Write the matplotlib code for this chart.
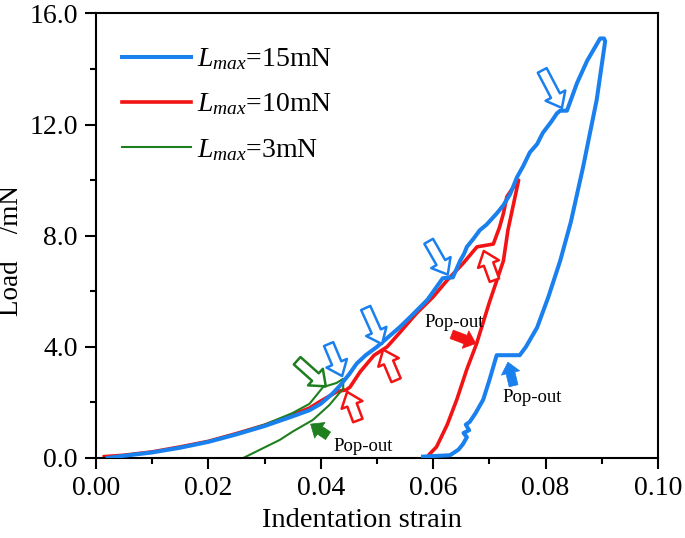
import matplotlib
matplotlib.use("Agg")
import matplotlib.pyplot as plt

plt.rcParams['font.family'] = ['Liberation Serif', 'DejaVu Serif']
plt.rcParams['mathtext.fontset'] = 'custom'
plt.rcParams['mathtext.rm'] = 'Liberation Serif'
plt.rcParams['mathtext.it'] = 'Liberation Serif:italic'

# ---- data ----
blue_x = [0.0021, 0.005, 0.010, 0.015, 0.020, 0.025, 0.030, 0.035, 0.038, 0.040, 0.042,
          0.0434, 0.045, 0.0464, 0.048, 0.050, 0.052, 0.054, 0.0559, 0.059, 0.0617,
          0.0635, 0.0648, 0.0655, 0.066, 0.0672, 0.0683, 0.0695, 0.0713, 0.0725, 0.0737,
          0.0749, 0.0760, 0.0772, 0.0785, 0.0795, 0.0810, 0.0820,
          0.0826, 0.0838, 0.0856, 0.0874, 0.0897, 0.0904,
          0.0906, 0.0891, 0.0867, 0.0845, 0.0826, 0.0805, 0.0785, 0.0765, 0.0754, 0.0713,
          0.070, 0.0689, 0.0675, 0.0665, 0.0658, 0.0664, 0.0654, 0.0660, 0.0653, 0.0645,
          0.063, 0.0582]
blue_y = [0.0, 0.08, 0.2, 0.37, 0.58, 0.85, 1.15, 1.5, 1.72, 1.95, 2.3,
          2.6, 3.0, 3.4, 3.7, 4.0, 4.35, 4.7, 5.07, 5.7, 6.47,
          6.5, 7.1, 7.35, 7.6, 7.9, 8.2, 8.4, 8.8, 9.1, 9.5,
          10.1, 10.5, 11.0, 11.3, 11.7, 12.1, 12.4,
          12.5, 12.5, 13.5, 14.3, 15.1, 15.1,
          15.0, 12.9, 10.5, 8.5, 7.1, 5.8, 4.7, 4.0, 3.7, 3.7,
          2.8, 2.1, 1.6, 1.3, 1.2, 1.0, 0.9, 0.75, 0.5, 0.3,
          0.1, 0.05]

red_x = [0.0015, 0.005, 0.010, 0.015, 0.020, 0.025, 0.030, 0.035, 0.038, 0.040, 0.043,
         0.0445, 0.0452, 0.047, 0.0495, 0.0518, 0.054, 0.057, 0.060, 0.0625, 0.0653,
         0.0678, 0.0707, 0.0718, 0.0725, 0.0731, 0.0751,
         0.0752, 0.0733, 0.0725, 0.070, 0.0677, 0.066, 0.0642, 0.0625, 0.0606, 0.0594, 0.0588]
red_y = [0.05, 0.1, 0.22, 0.4, 0.6, 0.88, 1.18, 1.55, 1.8, 2.05, 2.4,
         2.45, 2.55, 3.1, 3.7, 4.0, 4.5, 5.2, 5.8, 6.4, 7.0,
         7.6, 7.7, 8.3, 8.8, 9.4, 10.0,
         10.0, 8.2, 7.1, 5.6, 4.1, 3.2, 2.1, 1.2, 0.4, 0.15, 0.0]

green_x = [0.003, 0.010, 0.015, 0.020, 0.025, 0.030, 0.035, 0.038, 0.0404, 0.0428, 0.044,
           0.044, 0.0415, 0.0386, 0.035, 0.0327, 0.030, 0.028, 0.0262]
green_y = [0.05, 0.22, 0.4, 0.6, 0.88, 1.2, 1.62, 1.95, 2.55, 2.7, 2.85,
           2.5, 1.9, 1.37, 0.95, 0.65, 0.38, 0.18, 0.0]

labels = [r'$L_{max}$=15mN', r'$L_{max}$=10mN', r'$L_{max}$=3mN']
colors = ['#1a80ee', '#f21414', '#1f7f1f']

x_ticks = [0.00, 0.02, 0.04, 0.06, 0.08, 0.10]
y_ticks = [0.0, 4.0, 8.0, 12.0, 16.0]

# annotation arrows: (tail, head, color, filled)
arrows = [
    ((0.0414, 4.1), (0.0438, 2.95), '#1a80ee', False),
    ((0.0480, 5.4), (0.0509, 4.1), '#1a80ee', False),
    ((0.0592, 7.8), (0.0626, 6.6), '#1a80ee', False),
    ((0.0794, 13.95), (0.0829, 12.6), '#1a80ee', False),
    ((0.0466, 1.35), (0.0447, 2.38), '#f21414', False),
    ((0.0534, 2.8), (0.0511, 3.9), '#f21414', False),
    ((0.0709, 6.4), (0.0690, 7.45), '#f21414', False),
    ((0.0358, 3.5), (0.0409, 2.58), '#1f7f1f', False),
    ((0.0413, 0.80), (0.0382, 1.22), '#1f7f1f', True),
    ((0.0633, 4.45), (0.0676, 4.12), '#f21414', True),
    ((0.0743, 2.60), (0.0733, 3.45), '#1a80ee', True),
]
popout_texts = [((0.0422, 0.43), 'left'), ((0.0637, 4.86), 'center'), ((0.0776, 2.16), 'center')]

fig = plt.figure(figsize=(6.85, 5.38), dpi=100)
ax = fig.add_axes([0.140, 0.1487, 0.8206, 0.8263])

ax.plot(blue_x, blue_y, color=colors[0], lw=2.9, label=labels[0], zorder=3, solid_joinstyle='round')
ax.plot(red_x, red_y, color=colors[1], lw=2.6, label=labels[1], zorder=2, solid_joinstyle='round')
ax.plot(green_x, green_y, color=colors[2], lw=1.5, label=labels[2], zorder=2.5)

for tail, head, c, filled in arrows:
    if filled:
        style = 'simple,head_length=0.8,head_width=1.35,tail_width=0.65'
        ax.annotate('', xy=head, xytext=tail,
                    arrowprops=dict(arrowstyle=style, fc=c, ec=c, lw=0.5,
                                    mutation_scale=10, shrinkA=0, shrinkB=0), zorder=5)
    else:
        style = 'simple,head_length=1.0,head_width=1.6,tail_width=0.72'
        ax.annotate('', xy=head, xytext=tail,
                    arrowprops=dict(arrowstyle=style, fc='white', ec=c, lw=1.8,
                                    mutation_scale=10, shrinkA=0, shrinkB=0), zorder=5)

for (pos, ha) in popout_texts:
    ax.text(pos[0], pos[1], 'Pop-out', fontsize=13.5, ha=ha, va='center', zorder=6)

ax.set_xlim(0, 0.10)
ax.set_ylim(0, 16)
ax.set_xticks(x_ticks)
ax.set_xticklabels([f'{v:.2f}' for v in x_ticks])
ax.set_yticks(y_ticks)
ax.set_yticklabels([f'{v:.1f}' for v in y_ticks])
ax.set_xticks([0.01, 0.03, 0.05, 0.07, 0.09], minor=True)
ax.set_yticks([2, 6, 10, 14], minor=True)
ax.tick_params(which='major', direction='out', length=8, width=1.5, labelsize=20, pad=5)
ax.tick_params(which='minor', direction='out', length=4.5, width=1.5)
ax.tick_params(top=False, right=False, which='both')
for s in ax.spines.values():
    s.set_linewidth(1.5)

ax.set_xlabel('Indentation strain', fontsize=20.5)
ax.xaxis.set_label_coords(0.474, -0.112)
ax.set_ylabel('Load    /mN', fontsize=19.5)
ax.yaxis.set_label_coords(-0.128, 0.466)

leg = ax.legend(loc='upper left', bbox_to_anchor=(0.046, 0.926), frameon=False, fontsize=20,
                handlelength=2.5, handletextpad=0.2, labelspacing=0.7,
                borderaxespad=0, borderpad=0)

fig.savefig('out.png', dpi=100)
